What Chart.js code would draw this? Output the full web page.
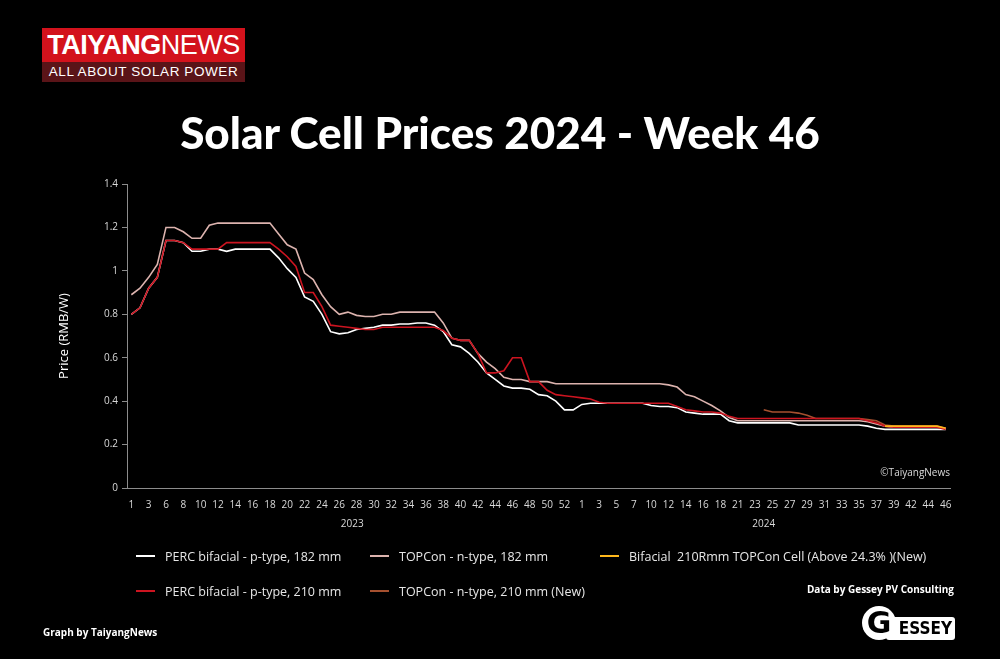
<!DOCTYPE html>
<html>
<head>
<meta charset="utf-8">
<script src="https://cdn.jsdelivr.net/npm/chart.js@4.4.1/dist/chart.umd.min.js"></script>
<style>
  html, body { margin: 0; padding: 0; background: #000; }
  body { width: 1000px; height: 659px; position: relative; overflow: hidden; font-family: "Open Sans", sans-serif; color: #fff; }
  #wrap { position: absolute; left: 0; top: 0; width: 1000px; height: 659px; }
  .logo { position: absolute; left: 42px; top: 28px; width: 203px; }
  .logo .top { background: #d3121c; height: 34px; line-height: 34px; text-align: center; font-family: "Liberation Sans", sans-serif; font-size: 27px; letter-spacing: -0.5px; }
  .logo .top b { font-weight: 700; }
  .logo .top span { font-weight: 400; }
  .logo .bot { background: #5a1418; height: 20px; line-height: 20px; text-align: center; font-family: "Liberation Sans", sans-serif; font-size: 13.5px; letter-spacing: 0.6px; }
  h1 { position: absolute; left: 0; top: 105px; width: 1000px; margin: 0; text-align: center; font-family: Lato, sans-serif; font-weight: 900; font-size: 44px; line-height: 54px; }
  #legend { position: absolute; left: 136px; top: 544px; display: grid; grid-template-columns: 234px 230px auto; grid-auto-rows: 35px; font-size: 12.5px; color: #e6e6e6; }
  #legend div { display: flex; align-items: center; height: 24px; }
  #legend i { display: inline-block; width: 19px; height: 2px; margin-right: 10px; }
  .copy { position: absolute; right: 50px; top: 465px; font-size: 10px; color: #d9d9d9; }
  .src { position: absolute; right: 46px; top: 582px; font-size: 10px; font-weight: 700; }
  .by { position: absolute; left: 43px; top: 625px; font-size: 10px; font-weight: 700; }
  .gessey { position: absolute; left: 862px; top: 606px; width: 94px; height: 36px; }
  .gessey .g { position: absolute; left: 0; top: 0; width: 34px; height: 34px; border-radius: 50%; background: #fff; color: #000; font: 900 30px/34px "DejaVu Sans", sans-serif; text-align: center; }
  .gessey .e { position: absolute; left: 24px; top: 11px; width: 69px; height: 23px; background: #fff; border-radius: 3px; color: #000; font: 700 17px/23px "DejaVu Sans Condensed", sans-serif; text-align: right; padding-right: 3px; box-sizing: border-box; }
</style>
</head>
<body>
<div id="wrap"><canvas id="chart"></canvas></div>
<div class="logo"><div class="top"><b>TAIYANG</b><span>NEWS</span></div><div class="bot">ALL ABOUT SOLAR POWER</div></div>
<h1>Solar Cell Prices 2024 - Week 46</h1>
<div class="copy">©TaiyangNews</div>
<div id="legend"></div>
<div class="src">Data by Gessey PV Consulting</div>
<div class="by">Graph by TaiyangNews</div>
<div class="gessey"><div class="e">ESSEY</div><div class="g">G</div></div>
<script>
// week numbers on the category axis (every other one is shown)
var weeks2023 = [1, 2, 3, 5, 6, 7, 8, 9, 10, 11, 12, 13, 14, 15, 16, 17, 18, 19, 20, 21,
  22, 23, 24, 25, 26, 27, 28, 29, 30, 31, 32, 33, 34, 35, 36, 37, 38, 39, 40, 41,
  42, 43, 44, 45, 46, 47, 48, 49, 50, 51, 52, 53];
var weeks2024 = [1, 2, 3, 4, 5, 6, 7, 9, 10, 11, 12, 13, 14, 15, 16, 17, 18, 20, 21, 22,
  23, 24, 25, 26, 27, 28, 29, 30, 31, 32, 33, 34, 35, 36, 37, 38, 39, 41, 42, 43,
  44, 45, 46];
var years = ['2023', '2024'];

var yTicks = [0, 0.2, 0.4, 0.6, 0.8, 1, 1.2, 1.4];

// prices in RMB/W
var perc182 = [
  0.80, 0.83, 0.92, 0.97, 1.14, 1.14, 1.13, 1.09, 1.09, 1.10,
  1.10, 1.09, 1.10, 1.10, 1.10, 1.10, 1.10, 1.06, 1.01, 0.97,
  0.88, 0.86, 0.80, 0.72, 0.71, 0.715, 0.73, 0.735, 0.74, 0.75,
  0.75, 0.755, 0.755, 0.76, 0.76, 0.75, 0.72, 0.66, 0.65, 0.62,
  0.58, 0.53, 0.50, 0.47, 0.46, 0.46, 0.455, 0.43, 0.425, 0.40,
  0.36, 0.36, 0.385, 0.39, 0.39, 0.39, 0.39, 0.39, 0.39, 0.39,
  0.38, 0.375, 0.375, 0.37, 0.35, 0.345, 0.34, 0.34, 0.34, 0.31,
  0.30, 0.30, 0.30, 0.30, 0.30, 0.30, 0.30, 0.29, 0.29, 0.29,
  0.29, 0.29, 0.29, 0.29, 0.29, 0.285, 0.275, 0.27, 0.27, 0.27,
  0.27, 0.27, 0.27, 0.27, 0.27];
var topcon182 = [
  0.89, 0.92, 0.97, 1.03, 1.20, 1.20, 1.18, 1.15, 1.15, 1.21,
  1.22, 1.22, 1.22, 1.22, 1.22, 1.22, 1.22, 1.17, 1.12, 1.10,
  0.99, 0.96, 0.89, 0.835, 0.80, 0.81, 0.795, 0.79, 0.79, 0.80,
  0.80, 0.81, 0.81, 0.81, 0.81, 0.81, 0.76, 0.69, 0.68, 0.68,
  0.62, 0.58, 0.55, 0.51, 0.50, 0.50, 0.49, 0.49, 0.49, 0.48,
  0.48, 0.48, 0.48, 0.48, 0.48, 0.48, 0.48, 0.48, 0.48, 0.48,
  0.48, 0.48, 0.475, 0.465, 0.43, 0.42, 0.40, 0.38, 0.355, 0.325,
  0.31, 0.31, 0.31, 0.31, 0.31, 0.31, 0.31, 0.31, 0.31, 0.31,
  0.31, 0.31, 0.31, 0.31, 0.31, 0.305, 0.295, 0.285, 0.28, 0.28,
  0.28, 0.28, 0.28, 0.28, 0.275];
var bifacial210R = [
  null, null, null, null, null, null, null, null, null, null,
  null, null, null, null, null, null, null, null, null, null,
  null, null, null, null, null, null, null, null, null, null,
  null, null, null, null, null, null, null, null, null, null,
  null, null, null, null, null, null, null, null, null, null,
  null, null, null, null, null, null, null, null, null, null,
  null, null, null, null, null, null, null, null, null, null,
  null, null, null, null, null, null, null, null, null, null,
  null, null, null, null, null, null, null, 0.285, 0.285, 0.285,
  0.285, 0.285, 0.285, 0.285, 0.275];
var perc210 = [
  0.80, 0.83, 0.92, 0.97, 1.14, 1.14, 1.13, 1.10, 1.10, 1.10,
  1.10, 1.13, 1.13, 1.13, 1.13, 1.13, 1.13, 1.10, 1.065, 1.02,
  0.90, 0.90, 0.835, 0.75, 0.745, 0.74, 0.735, 0.73, 0.73, 0.74,
  0.74, 0.74, 0.74, 0.74, 0.74, 0.74, 0.725, 0.69, 0.68, 0.68,
  0.62, 0.53, 0.53, 0.54, 0.60, 0.60, 0.49, 0.49, 0.45, 0.43,
  0.425, 0.42, 0.415, 0.41, 0.395, 0.39, 0.39, 0.39, 0.39, 0.39,
  0.39, 0.39, 0.39, 0.375, 0.36, 0.355, 0.35, 0.35, 0.345, 0.33,
  0.32, 0.32, 0.32, 0.32, 0.32, 0.32, 0.32, 0.32, 0.32, 0.32,
  0.32, 0.32, 0.32, 0.32, 0.32, 0.31, 0.30, 0.285, 0.28, 0.28,
  0.28, 0.28, 0.28, 0.28, 0.27];
var topcon210 = [
  null, null, null, null, null, null, null, null, null, null,
  null, null, null, null, null, null, null, null, null, null,
  null, null, null, null, null, null, null, null, null, null,
  null, null, null, null, null, null, null, null, null, null,
  null, null, null, null, null, null, null, null, null, null,
  null, null, null, null, null, null, null, null, null, null,
  null, null, null, null, null, null, null, null, null, null,
  null, null, null, 0.36, 0.35, 0.35, 0.35, 0.345, 0.335, 0.32,
  0.32, 0.32, 0.32, 0.32, 0.32, 0.315, 0.31, 0.29, 0.285, 0.285,
  0.285, 0.285, 0.285, 0.285, 0.275];

var seriesNames = [
  'PERC bifacial - p-type, 182 mm',
  'TOPCon - n-type, 182 mm',
  'Bifacial  210Rmm TOPCon Cell (Above 24.3% )(New)',
  'PERC bifacial - p-type, 210 mm',
  'TOPCon - n-type, 210 mm (New)'
];
var seriesData = [perc182, topcon182, bifacial210R, perc210, topcon210];
var seriesColors = ['#ffffff', '#dcb3ae', '#ffb81c', '#cc1420', '#a5502f'];
// which line sits on top (lower = on top)
var seriesOrder = [4, 3, 0, 1, 2];

var labels = weeks2023.concat(weeks2024).map(String);

var datasets = seriesData.map(function (d, i) {
  return {
    label: seriesNames[i],
    data: d,
    borderColor: seriesColors[i],
    backgroundColor: seriesColors[i],
    borderWidth: 1.6,
    pointRadius: 0,
    tension: 0,
    fill: false,
    spanGaps: false,
    order: seriesOrder[i]
  };
});

var legendEl = document.getElementById('legend');
seriesNames.forEach(function (name, i) {
  var item = document.createElement('div');
  var mark = document.createElement('i');
  mark.style.background = seriesColors[i];
  var txt = document.createElement('span');
  txt.style.whiteSpace = 'pre';
  txt.textContent = name;
  item.appendChild(mark);
  item.appendChild(txt);
  legendEl.appendChild(item);
});

// year captions under the week numbers
var yearLabels = {
  id: 'yearLabels',
  afterDraw: function (chart) {
    var x = chart.scales.x;
    var ctx = chart.ctx;
    var spans = [[0, weeks2023.length - 1], [weeks2023.length, labels.length - 1]];
    ctx.save();
    ctx.fillStyle = '#d9d9d9';
    ctx.font = '10px "Open Sans"';
    ctx.textAlign = 'center';
    ctx.textBaseline = 'middle';
    spans.forEach(function (s, i) {
      var mid = (x.getPixelForValue(s[0]) + x.getPixelForValue(s[1])) / 2;
      ctx.fillText(years[i], mid, 524);
    });
    ctx.restore();
  }
};

Chart.defaults.font.family = '"Open Sans", sans-serif';
Chart.defaults.color = '#d9d9d9';

new Chart(document.getElementById('chart'), {
  type: 'line',
  data: { labels: labels, datasets: datasets },
  options: {
    responsive: true,
    maintainAspectRatio: false,
    animation: false,
    layout: { padding: { left: 56, right: 50, top: 184, bottom: 141 } },
    plugins: { legend: { display: false }, tooltip: { enabled: false } },
    scales: {
      x: {
        type: 'category',
        offset: true,
        grid: { display: false },
        border: { display: true, color: '#8c8c8c', width: 1 },
        ticks: {
          autoSkip: false,
          maxRotation: 0,
          padding: 3,
          font: { size: 10 },
          color: '#d9d9d9',
          callback: function (val, idx) { return idx % 2 === 0 ? this.getLabelForValue(val) : ''; }
        },
        afterFit: function (s) { s.height = 30; }
      },
      y: {
        min: 0,
        max: 1.4,
        afterBuildTicks: function (s) { s.ticks = yTicks.map(function (v) { return { value: v }; }); },
        grid: { drawOnChartArea: false, tickLength: 5, color: '#8c8c8c' },
        border: { display: true, color: '#8c8c8c', width: 1 },
        ticks: {
          font: { size: 10 },
          color: '#d9d9d9',
          padding: 4,
          callback: function (v) { return String(Math.round(v * 10) / 10); }
        },
        title: { display: true, text: 'Price (RMB/W)', color: '#ffffff', font: { size: 13 }, padding: { top: 0, bottom: 0 } },
        afterFit: function (s) { s.width = 71; }
      }
    }
  },
  plugins: [yearLabels]
});
</script>
</body>
</html>
